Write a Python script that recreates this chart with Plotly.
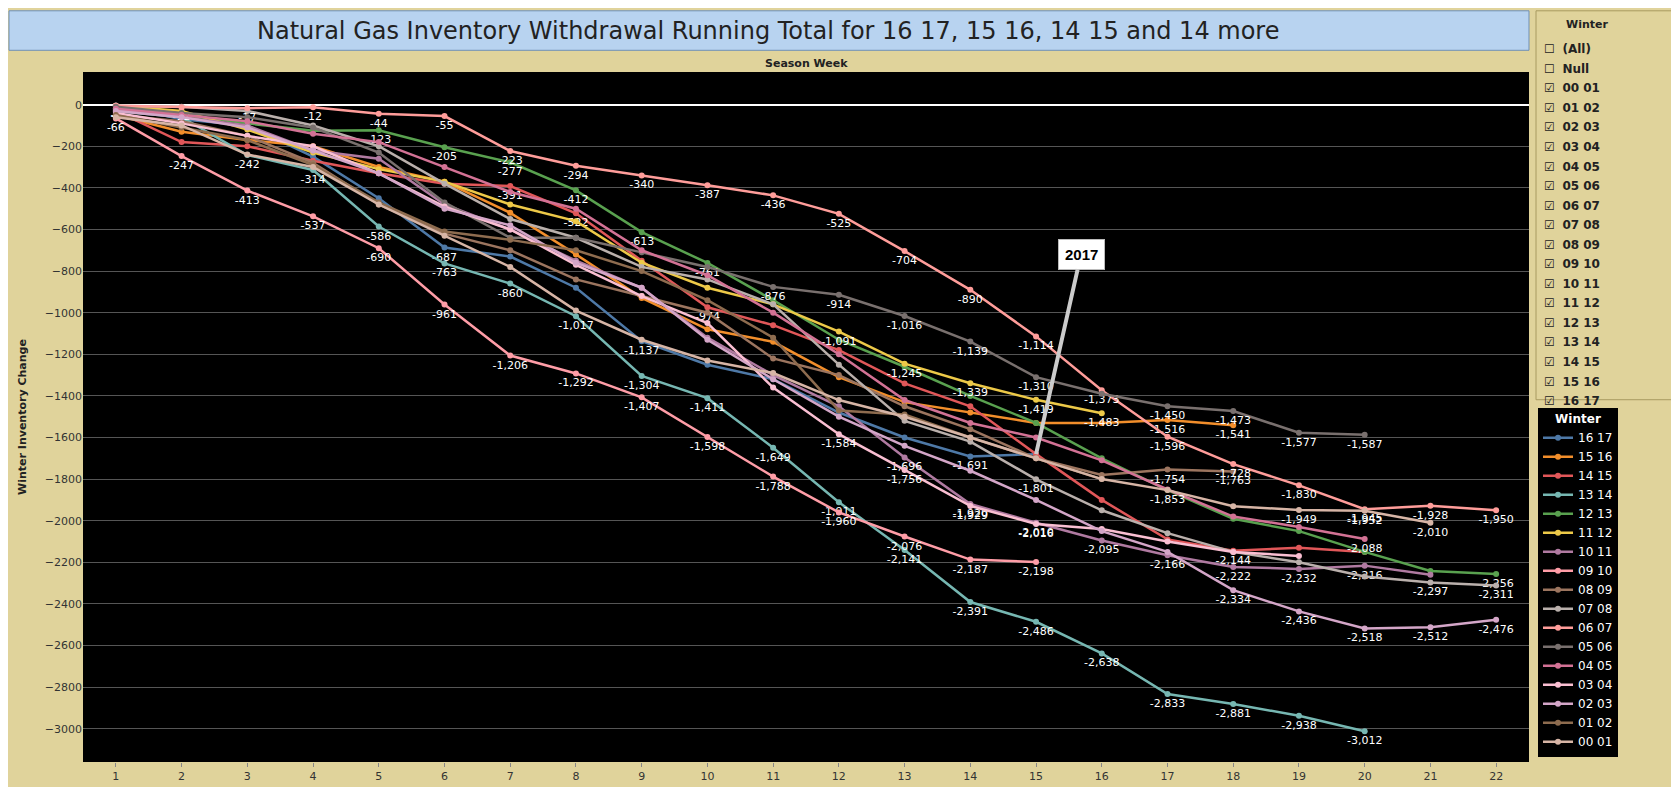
import plotly.graph_objects as go

# --------------------------
# DATA
# --------------------------
weeks = list(range(1, 23))

winters = ["16 17", "15 16", "14 15", "13 14", "12 13", "11 12", "10 11", "09 10",
           "08 09", "07 08", "06 07", "05 06", "04 05", "03 04", "02 03", "01 02", "00 01"]

colors = {"16 17": "#4E79A7", "15 16": "#F28E2B", "14 15": "#E15759", "13 14": "#76B7B2",
          "12 13": "#59A14F", "11 12": "#EDC948", "10 11": "#B07AA1", "09 10": "#FF9DA7",
          "08 09": "#9C755F", "07 08": "#BAB0AC", "06 07": "#FF9D9A", "05 06": "#79706E",
          "04 05": "#D37295", "03 04": "#FABFD2", "02 03": "#D4A6C8", "01 02": "#8E6C4F",
          "00 01": "#D7B5A6"}

w1617 = [-4, -70, -100, -250, -450, -687, -730, -880, -1137, -1250, -1320, -1480, -1600, -1691, -1680]
w1516 = [-50, -130, -170, -200, -300, -370, -520, -720, -929, -1080, -1140, -1310, -1430, -1480, -1530, -1530, -1516, -1541]
w1415 = [-30, -180, -200, -270, -330, -380, -391, -522, -750, -974, -1060, -1180, -1340, -1450, -1680, -1900, -2090, -2144, -2130, -2150]
w1314 = [-30, -60, -242, -314, -586, -763, -860, -1017, -1304, -1411, -1649, -1911, -2141, -2391, -2486, -2638, -2833, -2881, -2938, -3012]
w1213 = [-20, -50, -90, -125, -123, -205, -277, -412, -613, -761, -940, -1130, -1260, -1400, -1530, -1700, -1853, -1991, -2050, -2150, -2242, -2256]
w1112 = [-5, -30, -120, -230, -310, -370, -480, -560, -760, -880, -960, -1091, -1245, -1339, -1419, -1483]
w1011 = [-20, -60, -100, -220, -260, -480, -600, -750, -880, -1120, -1300, -1450, -1696, -1920, -2010, -2095, -2166, -2222, -2232, -2216, -2260]
w0910 = [-66, -247, -413, -537, -690, -961, -1206, -1292, -1407, -1598, -1788, -1960, -2076, -2187, -2198]
w0809 = [-50, -80, -150, -280, -480, -620, -700, -840, -920, -1000, -1220, -1300, -1450, -1560, -1700, -1780, -1754, -1763]
w0708 = [-5, -10, -30, -100, -200, -380, -550, -640, -780, -840, -960, -1250, -1520, -1620, -1801, -1950, -2060, -2150, -2200, -2268, -2297, -2311]
w0607 = [-5, -12, -17, -12, -44, -55, -223, -294, -340, -387, -436, -525, -704, -890, -1114, -1373, -1596, -1728, -1830, -1945, -1928, -1950]
w0506 = [-10, -40, -60, -110, -230, -470, -640, -640, -710, -780, -876, -914, -1016, -1139, -1310, -1390, -1450, -1473, -1577, -1587]
w0405 = [-20, -50, -80, -140, -180, -300, -420, -500, -700, -820, -1000, -1200, -1420, -1530, -1600, -1710, -1850, -1980, -2030, -2088]
w0304 = [-40, -90, -150, -200, -330, -490, -600, -770, -920, -1050, -1360, -1584, -1756, -1929, -2016, -2040, -2100, -2150, -2170]
w0203 = [-30, -60, -110, -220, -330, -500, -580, -760, -880, -1130, -1320, -1500, -1640, -1760, -1900, -2050, -2150, -2334, -2436, -2518, -2512, -2476]
w0102 = [-50, -110, -170, -290, -470, -610, -650, -700, -800, -940, -1120, -1470, -1490, -1600, -1700, -1800]
w0001 = [-60, -100, -240, -300, -480, -630, -780, -990, -1130, -1230, -1290, -1420, -1500, -1600, -1700, -1800, -1853, -1930, -1949, -1952, -2010]

values = {"16 17": w1617, "15 16": w1516, "14 15": w1415, "13 14": w1314, "12 13": w1213,
          "11 12": w1112, "10 11": w1011, "09 10": w0910, "08 09": w0809, "07 08": w0708,
          "06 07": w0607, "05 06": w0506, "04 05": w0405, "03 04": w0304, "02 03": w0203,
          "01 02": w0102, "00 01": w0001}

# weeks that carry a value label
labeled = {"16 17": [1, 6, 9, 14], "15 16": [17, 18], "14 15": [7, 8, 10, 18],
           "13 14": [3, 4, 5, 6, 7, 8, 9, 10, 11, 12, 13, 14, 15, 16, 17, 18, 19, 20],
           "12 13": [5, 6, 7, 8, 9, 10, 22], "11 12": [12, 13, 14, 15, 16],
           "10 11": [13, 14, 15, 16, 17, 18, 19, 20], "09 10": list(range(1, 16)),
           "08 09": [17, 18], "07 08": [15, 21, 22], "06 07": list(range(1, 23)),
           "05 06": [11, 12, 13, 14, 15, 17, 18, 19, 20], "04 05": [20],
           "03 04": [12, 13, 14, 15], "02 03": [18, 19, 20, 21, 22],
           "01 02": [], "00 01": [17, 19, 20, 21]}

filter_items = ["(All)", "Null"] + winters[::-1]

# --------------------------
# FIGURE
# --------------------------
W, H = 1679, 787
ML, MR, MT, MB = 75, 158, 64, 24
PW, PH = W - ML - MR, H - MT - MB


def px(x):  # figure pixel -> paper x
    return (x - ML) / PW


def py(y):  # figure pixel -> paper y
    return (H - MB - y) / PH


fig = go.Figure()

for wn in winters:
    ys = values[wn]
    xs = weeks[:len(ys)]
    txt = [f"{v:,}" if x in labeled[wn] else "" for x, v in zip(xs, ys)]
    fig.add_trace(go.Scatter(x=xs, y=ys, name=wn, mode="lines+markers+text",
                             line=dict(color=colors[wn], width=2.5),
                             marker=dict(size=6, color=colors[wn]),
                             text=txt, textposition="bottom center",
                             textfont=dict(color="white", size=11, family="DejaVu Sans")))

# 2017 callout on week 15 of 16 17
fig.add_annotation(x=15, y=w1617[14], xref="x", yref="y", text="<b>2017</b>",
                   showarrow=True, arrowhead=0, arrowwidth=4, arrowcolor="#cccccc",
                   ax=45, ay=-200, bgcolor="white", bordercolor="#bbbbbb", borderpad=6,
                   font=dict(size=15, color="black", family="Arial"))

# title box
fig.add_shape(type="rect", xref="paper", yref="paper", x0=px(1), x1=1.0, y0=py(42), y1=py(2),
              fillcolor="#B8D3F0", line=dict(color="#6F8FB5", width=1))
fig.add_annotation(xref="paper", yref="paper", x=px(760), y=py(22), yanchor="middle", showarrow=False,
                   text="Natural Gas Inventory Withdrawal Running Total for 16 17, 15 16, 14 15 and 14 more",
                   font=dict(size=24, color="#222", family="DejaVu Sans"))
fig.add_annotation(xref="paper", yref="paper", x=0.5, y=py(55), yanchor="middle", showarrow=False,
                   text="<b>Season Week</b>", font=dict(size=11, color="#222"))

# filter panel
fig.add_shape(type="rect", xref="paper", yref="paper", x0=px(1528), x1=px(1676), y0=py(396), y1=py(2),
              fillcolor="#E0D39B", line=dict(color="#A89A60", width=1))
fig.add_annotation(xref="paper", yref="paper", x=px(1602), y=py(16), yanchor="middle", showarrow=False,
                   text="<b>Winter</b>", font=dict(size=11, color="#222"))
for i, item in enumerate(filter_items):
    box = "☐" if i < 2 else "☑"
    fig.add_annotation(xref="paper", yref="paper", x=px(1534), y=py(41 + 19.8 * i),
                       xanchor="left", yanchor="middle", showarrow=False, text=f"{box}  <b>{item}</b>",
                       font=dict(size=12, color="#222", family="DejaVu Sans"))

fig.update_layout(
    width=W, height=H,
    paper_bgcolor="#E0D39B", plot_bgcolor="black",
    margin=dict(l=ML, r=MR, t=MT, b=MB),
    showlegend=True,
    legend=dict(x=px(1530), y=py(404), xanchor="left", yanchor="top", bgcolor="black",
                bordercolor="black", font=dict(color="white", size=12),
                title=dict(text="<b>Winter</b>", side="top center", font=dict(color="white", size=12)),
                itemwidth=30, tracegroupgap=0),
    font=dict(family="DejaVu Sans"),
)
fig.update_xaxes(range=[0.5, 22.5], tickvals=weeks, showgrid=False, zeroline=False,
                 tickfont=dict(size=11, color="#333"), ticks="outside", ticklen=4, tickcolor="#888")
fig.update_yaxes(range=[-3160, 157], dtick=200, gridcolor="#555", zeroline=True,
                 zerolinecolor="white", zerolinewidth=2, tickformat="d",
                 title=dict(text="<b>Winter Inventory Change</b>", font=dict(size=11, color="#222")),
                 tickfont=dict(size=11, color="#333"))

fig.write_html("out.html")
